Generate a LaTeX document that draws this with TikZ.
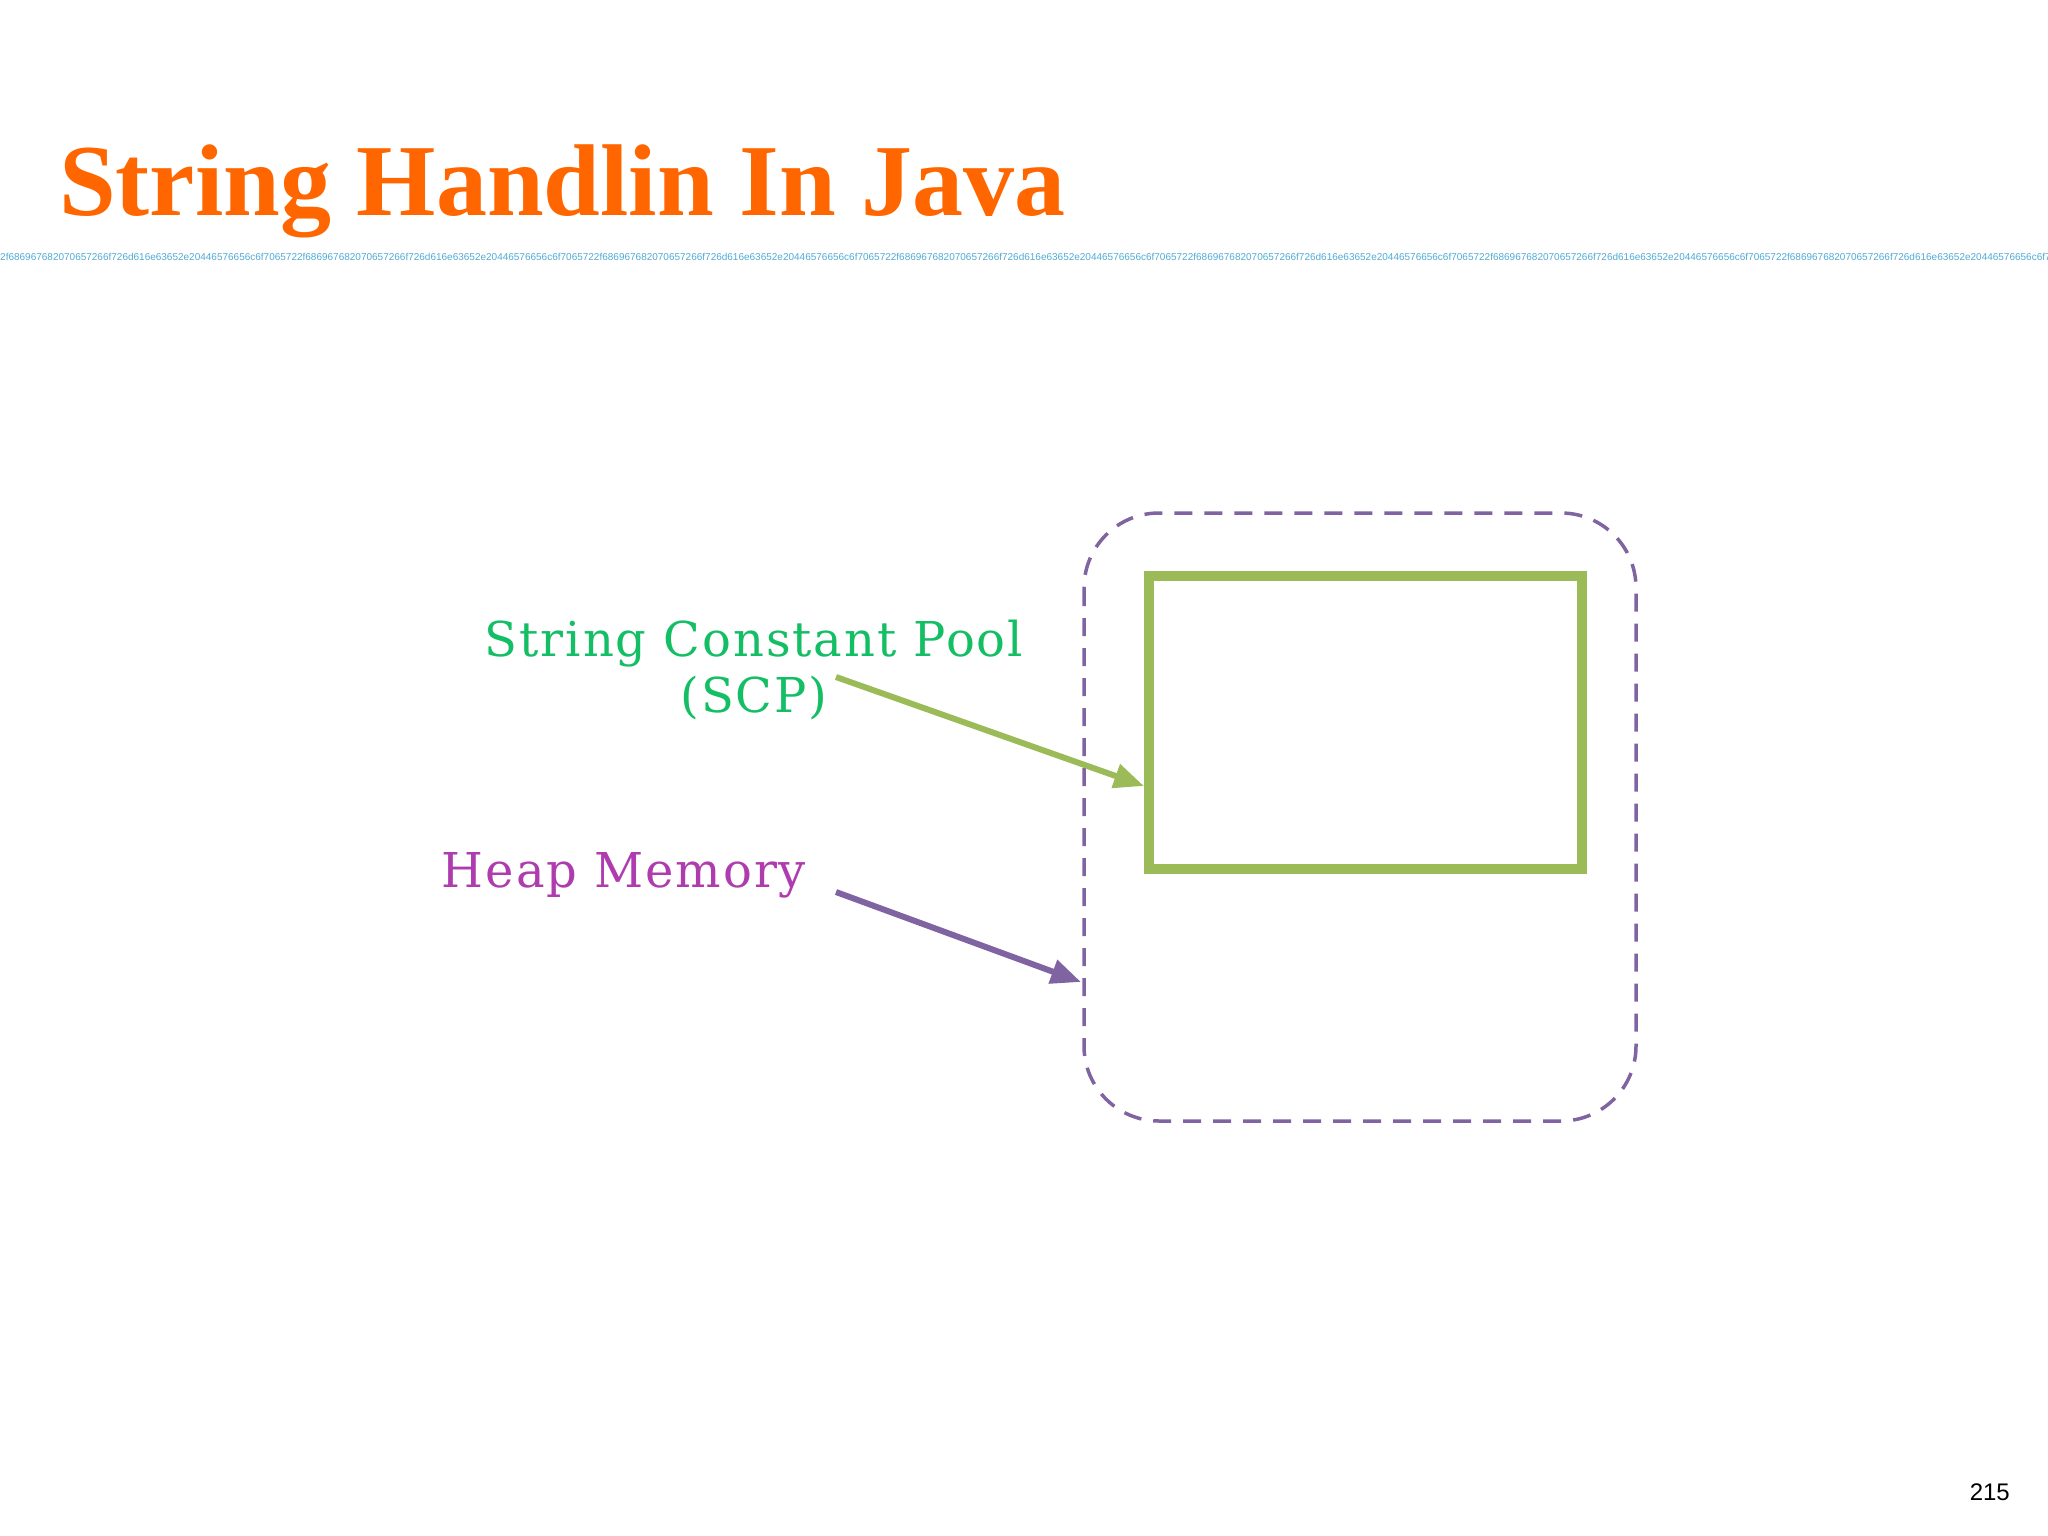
\documentclass[tikz,border=0pt]{standalone}
\usepackage{fontspec}
\setmainfont{Liberation Serif}
\newfontfamily\arialf{Liberation Sans}
\newfontfamily\lblf[LetterSpace=4]{DejaVu Serif}
\usetikzlibrary{arrows.meta}
\definecolor{ttl}{RGB}{255,102,0}
\definecolor{hexc}{RGB}{80,170,210}
\definecolor{heapc}{RGB}{128,100,162}
\definecolor{scpc}{RGB}{155,187,89}
\definecolor{scptxt}{RGB}{20,190,100}
\definecolor{heaptxt}{RGB}{175,60,175}
\tikzset{lbl/.style={font=\lblf\fontsize{48}{56}\selectfont, align=center}}
\begin{document}
\begin{tikzpicture}[x=1pt,y=-1pt]
\useasboundingbox (0,0) rectangle (2048,1536);
\node[anchor=base west, text=ttl, font=\bfseries\fontsize{102}{110}\selectfont, inner sep=0] (title) at (59,215) {String Handlin In Java};
\begin{scope}
\clip (0,240) rectangle (2048,275);
\node[anchor=west, text=hexc, font=\arialf\fontsize{10}{11}\selectfont, inner sep=0] (hex) at (0,257) {2f686967682070657266f726d616e63652e20446576656c6f7065722f686967682070657266f726d616e63652e20446576656c6f7065722f686967682070657266f726d616e63652e20446576656c6f7065722f686967682070657266f726d616e63652e20446576656c6f7065722f686967682070657266f726d616e63652e20446576656c6f7065722f686967682070657266f726d616e63652e20446576656c6f7065722f686967682070657266f726d616e63652e20446576656c6f7065722f686967682070657266f726d616e63652e20446576656c6f7065722f6869676820706572};
\end{scope}
\draw[heapc, line width=3.5, dash pattern=on 18 off 12, rounded corners=75] (1084,513) rectangle (1636,1121);
\node[draw=scpc, line width=10, minimum width=433, minimum height=293, inner sep=0] (scp) at (1365.5,722.5) {};
\node[lbl, text=scptxt] (scpl) at (754,670) {String Constant Pool\\(SCP)};
\node[lbl, text=heaptxt] (heapl) at (624,875) {Heap Memory};
\coordinate (a1) at (836,677);
\coordinate (a2) at (836,892);
\coordinate (h) at (1081,982);
\draw[scpc, line width=6, -{Triangle[length=30,width=24]}] (a1) -- (scp.west |- 0,786);
\draw[heapc, line width=6, -{Triangle[length=30,width=24]}] (a2) -- (h);
\node[font=\arialf\fontsize{24}{26}\selectfont, anchor=base east, inner sep=0] (pg) at (2010,1500) {215};
\end{tikzpicture}
\end{document}
